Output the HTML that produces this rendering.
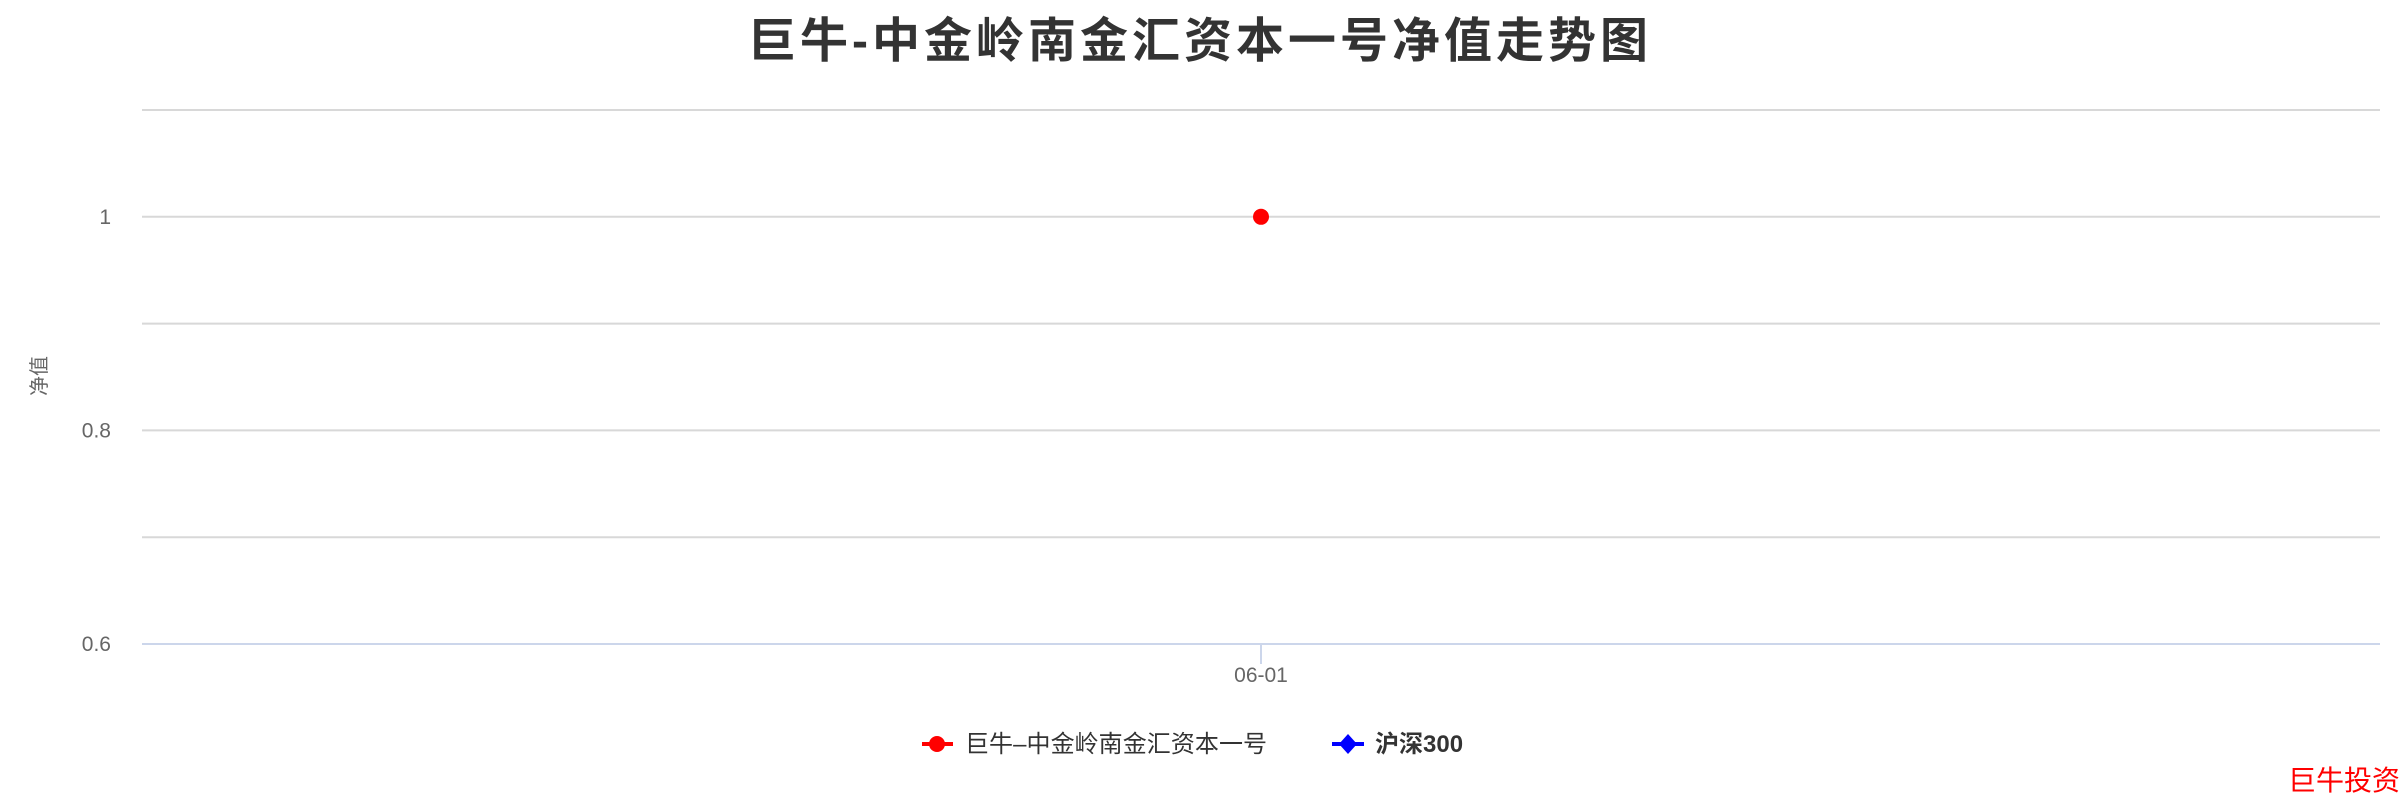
<!DOCTYPE html>
<html><head><meta charset="utf-8"><style>
html,body{margin:0;padding:0;background:#fff;width:2400px;height:800px;overflow:hidden}
svg{display:block}
</style></head><body>
<svg id="chart" width="2400" height="800" xmlns="http://www.w3.org/2000/svg">
<text x="1200" y="57" text-anchor="middle" letter-spacing="4" font-family="'Liberation Sans','Noto Sans CJK SC',sans-serif" font-size="48" font-weight="bold" fill="#333">巨牛-中金岭南金汇资本一号净值走势图</text>
<text transform="translate(46,376) rotate(-90)" text-anchor="middle" font-family="'Liberation Sans','Noto Sans CJK SC',sans-serif" font-size="20" fill="#666">净值</text>
<g id="grid"></g><g id="ylabels"></g><g id="xaxis"></g><g id="marks"></g>
<g font-family="'Liberation Sans','Noto Sans CJK SC',sans-serif" font-size="24">
 <g>
  <line x1="922" y1="744" x2="953" y2="744" stroke="#f00" stroke-width="4"/>
  <circle cx="937" cy="744" r="8" fill="#f00"/>
  <text x="965" y="752" fill="#333" textLength="302">巨牛–中金岭南金汇资本一号</text>
 </g>
 <g>
  <line x1="1332" y1="744" x2="1364" y2="744" stroke="#00f" stroke-width="4"/>
  <path d="M1348 734 L1357 744 L1348 754 L1339 744 Z" fill="#00f"/>
  <text x="1375" y="752" fill="#333" font-weight="bold">沪深300</text>
 </g>
</g>
<text x="2288" y="790" font-family="'Liberation Sans','Noto Sans CJK SC',sans-serif" font-size="28" fill="#f00">巨牛投资</text>
</svg>
<script>
const categories = ["06-01"];
const fundValues = [1.0];
const hs300Values = [];
const yTicks = [0.6, 0.7, 0.8, 0.9, 1.0, 1.1];
const yTickLabels = ["0.6", "", "0.8", "", "1", ""];
const NS = "http://www.w3.org/2000/svg";
const L = 142, R = 2380, B = 644, T = 110, yMin = 0.6, yMax = 1.1;
function yScale(v){ return B - (v - yMin) / (yMax - yMin) * (B - T); }
function xScale(i){ return L + (i + 0.5) * (R - L) / categories.length; }
function mk(tag, attrs, parent){ const e = document.createElementNS(NS, tag); for (const k in attrs) e.setAttribute(k, attrs[k]); parent.appendChild(e); return e; }
const grid = document.getElementById('grid'), yl = document.getElementById('ylabels'), xa = document.getElementById('xaxis'), marks = document.getElementById('marks');
yTicks.forEach((t, i) => {
  const y = yScale(t);
  const ln = mk('line', {x1: L, x2: R, y1: y, y2: y, stroke: i === 0 ? '#ccd6eb' : '#d8d8d8', 'stroke-width': 2}, grid);
  
  
  if (yTickLabels[i]) {
    const tx = mk('text', {x: 111, y: y + 7, 'text-anchor': 'end', 'font-family': 'Liberation Sans, sans-serif', 'font-size': 21, fill: '#666'}, yl);
    tx.textContent = yTickLabels[i];
    
    
  }
});
categories.forEach((c, i) => {
  const x = xScale(i);
  const tk = mk('line', {x1: x, x2: x, y1: B, y2: B + 20, stroke: '#ccd6eb', 'stroke-width': 2}, xa);
  
  
  const tx = mk('text', {x: x, y: 682, 'text-anchor': 'middle', 'font-family': 'Liberation Sans, sans-serif', 'font-size': 21, fill: '#666'}, xa);
  tx.textContent = c;
  
  
});
fundValues.forEach((v, i) => {
  const c = mk('circle', {cx: xScale(i), cy: yScale(v), r: 8, fill: '#f00'}, marks);
  
  
});
hs300Values.forEach((v, i) => {
  const x = xScale(i), y = yScale(v);
  const p = mk('path', {d: `M${x} ${y-9} L${x+9} ${y} L${x} ${y+9} L${x-9} ${y} Z`, fill: '#00f'}, marks);
  
  
});
</script>
</body></html>
